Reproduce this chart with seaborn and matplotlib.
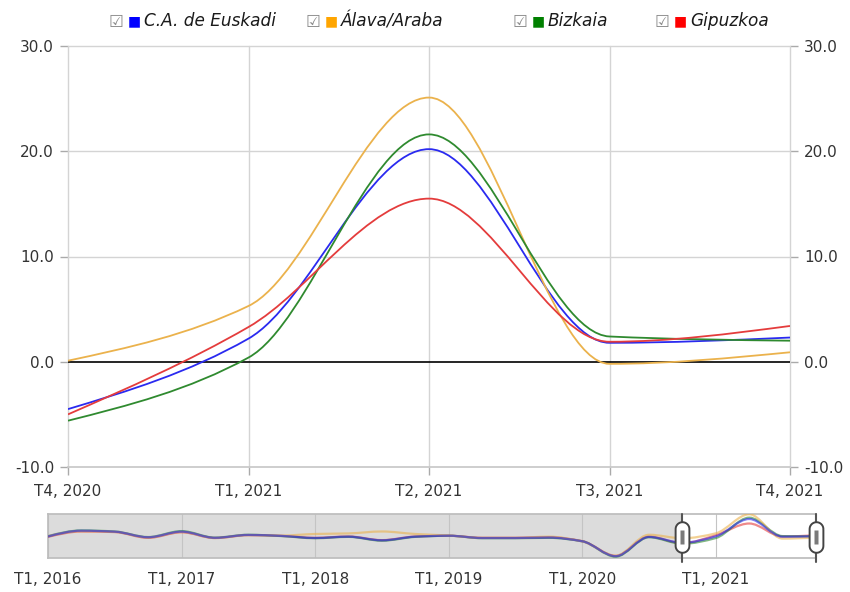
import numpy as np
import matplotlib
matplotlib.use("Agg")
import matplotlib.pyplot as plt
from matplotlib.path import Path
from matplotlib.patches import PathPatch, Rectangle
import seaborn as sns

# quarterly series, T1 2016 .. T4 2021
euskadi = [2.0, 8.0, 7.0, 1.2, 7.0, 0.6, 3.6, 2.6, 0.4, 1.8, -2.0, 1.8,
           2.8, 0.4, 0.4, 0.9, -3.0, -18.5, 1.5, -4.5, 2.2, 20.2, 1.8, 2.3]
alava = [2.2, 7.6, 6.8, 1.0, 6.6, 0.4, 3.4, 3.0, 4.6, 5.2, 7.2, 4.6,
         3.0, 0.6, 0.6, 1.8, -3.2, -18.0, 3.8, 0.1, 5.3, 25.1, -0.2, 0.9]
bizkaia = [2.3, 8.3, 7.2, 1.4, 7.6, 0.8, 3.8, 2.4, 0.2, 1.6, -2.4, 1.6,
           2.8, 0.2, 0.2, 0.6, -3.0, -19.0, 1.2, -5.6, 0.4, 21.6, 2.4, 2.0]
gipuzkoa = [1.6, 7.2, 6.6, 0.6, 6.4, 0.4, 3.4, 2.6, 0.6, 2.0, -1.8, 2.0,
            2.8, 0.6, 0.6, 1.2, -2.8, -18.2, 1.8, -5.0, 3.3, 15.5, 1.9, 3.4]

names = ["C.A. de Euskadi", "Álava/Araba", "Bizkaia", "Gipuzkoa"]
main_ticks = ["T4, 2020", "T1, 2021", "T2, 2021", "T3, 2021", "T4, 2021"]
nav_ticks = ["T1, 2016", "T1, 2017", "T1, 2018", "T1, 2019", "T1, 2020", "T1, 2021"]
y_ticks = [-10, 0, 10, 20, 30]

series = [euskadi, alava, bizkaia, gipuzkoa]
line_cols = ["#2a2af0", "#ebb24c", "#2f8a2f", "#e43c3c"]
box_cols = ["#0000ff", "#ffa500", "#008000", "#ff0000"]

sns.set_theme(style="white")
plt.rcParams["font.family"] = ["DejaVu Sans"]

TXT = "#333333"


def smooth(xs, ys):
    # monotone cubic drawn as bezier segments
    xs = np.asarray(xs, float)
    ys = np.asarray(ys, float)
    s = np.diff(ys)
    t = np.zeros(len(ys))
    for i in range(1, len(ys) - 1):
        if s[i - 1] * s[i] > 0:
            t[i] = 2 * s[i - 1] * s[i] / (s[i - 1] + s[i])
    t[0] = (3 * s[0] - t[1]) / 2
    t[-1] = (3 * s[-1] - t[-2]) / 2
    verts = [(xs[0], ys[0])]
    codes = [Path.MOVETO]
    for i in range(len(xs) - 1):
        h = xs[i + 1] - xs[i]
        verts += [(xs[i] + h / 3, ys[i] + t[i] / 3),
                  (xs[i + 1] - h / 3, ys[i + 1] - t[i + 1] / 3),
                  (xs[i + 1], ys[i + 1])]
        codes += [Path.CURVE4] * 3
    return Path(verts, codes)


fig = plt.figure(figsize=(8.5, 5.92), dpi=100)

# ---- main chart
ax = fig.add_axes([68 / 850, 1 - 467 / 592, 722 / 850, 421 / 592])
n = len(euskadi)
first = n - len(main_ticks)
xq = np.arange(first, n)
for vals, c in zip(series, line_cols):
    ax.add_patch(PathPatch(smooth(xq, vals[first:]), fill=False, ec=c,
                           lw=1.3, zorder=3))
ax.set_xlim(first, n - 1)
ax.set_ylim(-10, 30)
ax.set_xticks(xq)
ax.set_xticklabels(main_ticks)
ax.set_yticks(y_ticks)
ax.set_yticklabels([f"{v:.1f}" for v in y_ticks])
ax.axhline(0, color="black", lw=1.2, zorder=2)
for v in y_ticks[2:]:
    ax.axhline(v, color="#d4d4d4", lw=1, zorder=1, clip_on=False)
for x in xq:
    ax.axvline(x, color="#d4d4d4", lw=1, zorder=1, clip_on=False)
for side in ["top", "left", "right"]:
    ax.spines[side].set_visible(False)
ax.spines["bottom"].set_color("#c8c8c8")
ax.tick_params(axis="both", colors="#aaaaaa", labelcolor=TXT, labelsize=11,
               length=6, width=1, direction="out")
ax.tick_params(axis="y", left=True, right=True, labelleft=True,
               labelright=True, pad=4)
ax.tick_params(axis="x", bottom=True, pad=6)

# ---- legend
lx = [110, 307, 514, 656]
for x0, name, c in zip(lx, names, box_cols):
    fig.text((x0 - 1) / 850, 1 - 27 / 592, "☑", color="#8a8a8a", fontsize=12,
             va="baseline", ha="left")
    fig.text((x0 + 18) / 850, 1 - 25 / 592, "■", color=c, fontsize=10,
             va="baseline", ha="left")
    fig.text((x0 + 34) / 850, 1 - 26 / 592, name, color="#1a1a1a",
             fontsize=12.2, style="italic", va="baseline", ha="left")

# ---- navigator
nav = fig.add_axes([48 / 850, 1 - 558 / 592, 768 / 850, 44 / 592])
nav.set_xlim(0, n - 1)
nav.set_ylim(-20.4, 25.4)
nav.add_patch(Rectangle((0, -20.4), first, 45.8, fc="#dcdcdc", ec="none",
                        zorder=0))
years = np.arange(0, n, 4)
for x in years:
    nav.axvline(x, color="#c4c4c4", lw=0.8, zorder=1)
xa = np.arange(n)
for vals, c in list(zip(series, line_cols))[::-1]:
    nav.add_patch(PathPatch(smooth(xa, vals), fill=False, ec=c, lw=1.6,
                            alpha=0.6, zorder=3))
nav.set_xticks(years)
nav.set_xticklabels(nav_ticks)
nav.set_yticks([])
for sp in nav.spines.values():
    sp.set_color("#bdbdbd")
nav.tick_params(axis="x", colors="#bbbbbb", labelcolor=TXT, labelsize=11,
                length=5, pad=5)

# handles
capsule = np.r_[np.c_[0.45 * np.cos(np.linspace(0, np.pi, 20)),
                      0.55 + 0.45 * np.sin(np.linspace(0, np.pi, 20))],
                np.c_[0.45 * np.cos(np.linspace(np.pi, 2 * np.pi, 20)),
                      -0.55 + 0.45 * np.sin(np.linspace(np.pi, 2 * np.pi, 20))]]
capsule = np.r_[capsule, capsule[:1]]
bar = [(-0.3, -1), (0.3, -1), (0.3, 1), (-0.3, 1), (-0.3, -1)]
for x in [first, n - 1]:
    nav.plot([x, x], [-25.0, 25.4], color="#555555", lw=1.5, zorder=5,
             clip_on=False)
    nav.plot([x], [1.0], marker=capsule, ms=22, mfc="white", mec="#444444",
             mew=1.4, zorder=7, clip_on=False)
    nav.plot([x], [1.0], marker=bar, ms=10, mfc="#7a7a7a", mec="none",
             zorder=8, clip_on=False)

fig.savefig("out.png", dpi=100)
